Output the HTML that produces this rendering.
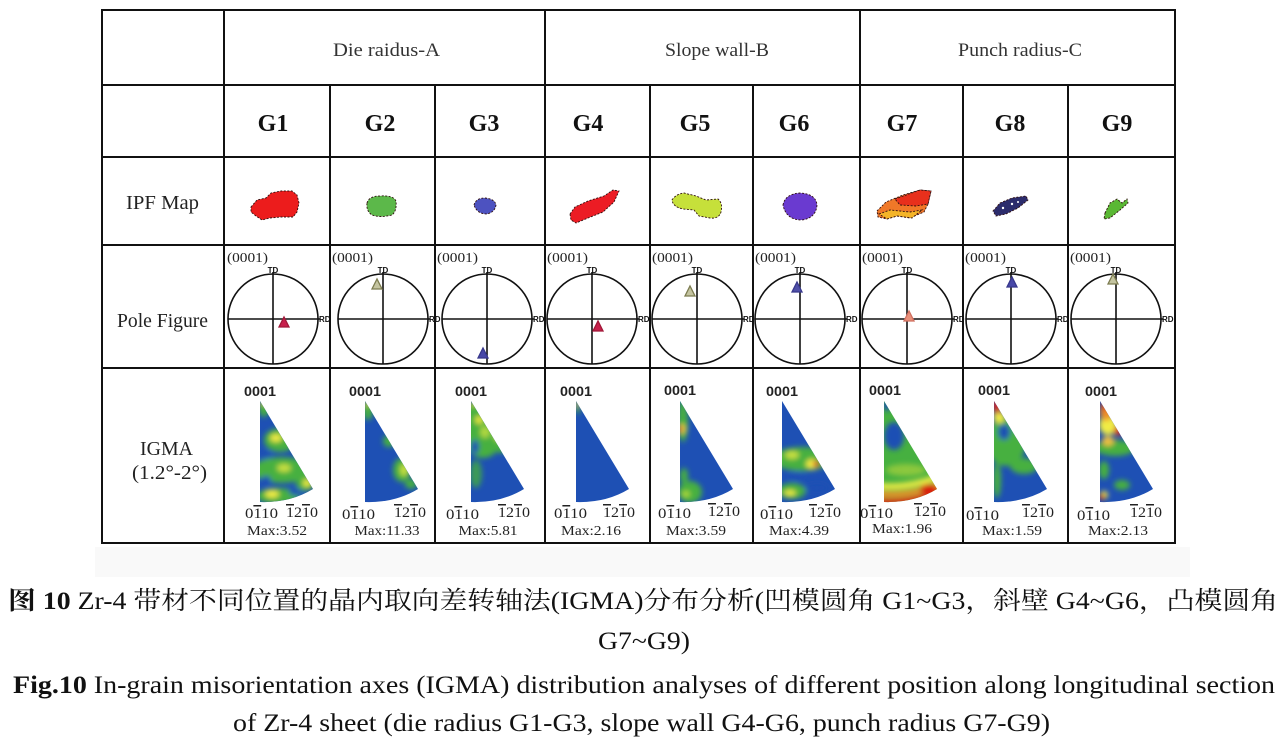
<!DOCTYPE html>
<html><head><meta charset="utf-8">
<style>
html,body{margin:0;padding:0;background:#fff;}
svg{display:block;}
.s{font-family:"Liberation Serif","Noto Serif CJK SC",serif;}
.a{font-family:"Liberation Sans",sans-serif;}
.ol{text-decoration:overline;}
</style></head><body>
<svg width="1283" height="746" viewBox="0 0 1283 746" xmlns="http://www.w3.org/2000/svg">
<defs>
<filter id="bl" x="-50%" y="-50%" width="200%" height="200%"><feGaussianBlur stdDeviation="2.6"/></filter>
<clipPath id="tc"><path d="M0,401 L53,489 Q30,503 0,502 Z"/></clipPath>
</defs>
<rect width="1283" height="746" fill="#fff"/>
<rect x="95" y="547" width="1095" height="30" fill="#f9f9f9"/>

<!-- table lines -->
<g stroke="#111" stroke-width="2" fill="none">
<line x1="101" y1="10" x2="1176" y2="10"/>
<line x1="101" y1="85" x2="1176" y2="85"/>
<line x1="101" y1="157" x2="1176" y2="157"/>
<line x1="101" y1="245" x2="1176" y2="245"/>
<line x1="101" y1="368" x2="1176" y2="368"/>
<line x1="101" y1="543" x2="1176" y2="543"/>
<line x1="102" y1="9" x2="102" y2="544"/>
<line x1="224" y1="9" x2="224" y2="544"/>
<line x1="545" y1="9" x2="545" y2="544"/>
<line x1="860" y1="9" x2="860" y2="544"/>
<line x1="1175" y1="9" x2="1175" y2="544"/>
<line x1="330" y1="85" x2="330" y2="544"/>
<line x1="435" y1="85" x2="435" y2="544"/>
<line x1="650" y1="85" x2="650" y2="544"/>
<line x1="753" y1="85" x2="753" y2="544"/>
<line x1="963" y1="85" x2="963" y2="544"/>
<line x1="1068" y1="85" x2="1068" y2="544"/>
</g>

<!-- header text -->
<g class="s" fill="#333" font-size="19">
<text x="333" y="56" textLength="107" lengthAdjust="spacingAndGlyphs">Die raidus-A</text>
<text x="665" y="56" textLength="104" lengthAdjust="spacingAndGlyphs">Slope wall-B</text>
<text x="958" y="56" textLength="124" lengthAdjust="spacingAndGlyphs">Punch radius-C</text>
</g>
<g class="s" fill="#111" font-size="24" font-weight="bold" text-anchor="middle">
<text x="273" y="131">G1</text>
<text x="380" y="131">G2</text>
<text x="484" y="131">G3</text>
<text x="588" y="131">G4</text>
<text x="695" y="131">G5</text>
<text x="794" y="131">G6</text>
<text x="902" y="131">G7</text>
<text x="1010" y="131">G8</text>
<text x="1117" y="131">G9</text>
</g>
<g class="s" fill="#222" font-size="20">
<text x="126" y="209" textLength="73" lengthAdjust="spacingAndGlyphs">IPF Map</text>
<text x="117" y="327" textLength="91" lengthAdjust="spacingAndGlyphs">Pole Figure</text>
<text x="140" y="455" textLength="53" lengthAdjust="spacingAndGlyphs">IGMA</text>
<text x="132" y="479" textLength="75" lengthAdjust="spacingAndGlyphs">(1.2°-2°)</text>
</g>

<!-- IPF maps -->
<g stroke="#301010" stroke-width="0.9" stroke-dasharray="2 1.5">
<path d="M251,207 L257,200 L266,198 L271,193 L281,191 L292,191 L297,195 L299,203 L297,212 L293,217 L281,217 L270,218 L262,220 L256,216 L251,212 Z" fill="#ec1c1c"/>
<path d="M367,203 Q369,196 380,196 Q393,195 396,201 Q397,211 392,215 Q380,218 372,215 Q366,211 367,203 Z" fill="#5cb84a"/>
<path d="M474,205 Q476,198 485,198 Q495,199 496,205 Q495,212 487,214 Q477,214 474,205 Z" fill="#4d52c0"/>
<path d="M570,214 L575,207 L588,201 L604,196 L613,190 L619,191 L614,202 L603,212 L588,218 L576,223 L571,220 Z" fill="#ec1c24"/>
<path d="M672,200 Q676,194 684,193 L696,196 L706,200 L718,199 Q723,203 721,212 Q719,219 710,218 L699,216 L694,210 L683,209 Q673,207 672,200 Z" fill="#c6e03a"/>
<path d="M783,205 Q785,194 800,193 Q816,194 817,205 Q816,218 802,220 Q786,220 783,205 Z" fill="#6a3ad0"/>
<path d="M877,211 L886,202 L903,195 L920,190 L931,191 L928,204 L924,212 L910,218 L897,216 L887,219 L878,217 Z" fill="#f07828"/>
<path d="M895,199 L920,190 L931,191 L928,204 L916,206 L900,205 Z" fill="#e8301c"/>
<path d="M879,214 L890,210 L910,212 L922,210 L912,218 L897,216 L887,219 Z" fill="#f4b428"/>
<path d="M993,211 L1000,203 L1012,198 L1026,196 L1028,200 L1018,208 L1006,214 L996,216 Z" fill="#2c2c6c"/>
<path d="M1105,213 L1110,203 L1117,199 L1122,203 L1127,199 L1128,203 L1120,210 L1110,218 L1104,219 Z" fill="#5ab834"/>
</g>
<g fill="#fff"><circle cx="1003" cy="208" r="1.2"/><circle cx="1012" cy="204" r="1.2"/><circle cx="1018" cy="202" r="1"/></g>

<!-- Pole figures -->
<g class="s" fill="#222" font-size="14">
<text x="227" y="262" textLength="41" lengthAdjust="spacingAndGlyphs">(0001)</text>
<text x="332" y="262" textLength="41" lengthAdjust="spacingAndGlyphs">(0001)</text>
<text x="437" y="262" textLength="41" lengthAdjust="spacingAndGlyphs">(0001)</text>
<text x="547" y="262" textLength="41" lengthAdjust="spacingAndGlyphs">(0001)</text>
<text x="652" y="262" textLength="41" lengthAdjust="spacingAndGlyphs">(0001)</text>
<text x="755" y="262" textLength="41" lengthAdjust="spacingAndGlyphs">(0001)</text>
<text x="862" y="262" textLength="41" lengthAdjust="spacingAndGlyphs">(0001)</text>
<text x="965" y="262" textLength="41" lengthAdjust="spacingAndGlyphs">(0001)</text>
<text x="1070" y="262" textLength="41" lengthAdjust="spacingAndGlyphs">(0001)</text>
</g>
<g fill="none" stroke="#111" stroke-width="1.6">
<circle cx="273" cy="319" r="45"/><line x1="228" y1="319" x2="320" y2="319"/><line x1="273" y1="272" x2="273" y2="364"/>
<circle cx="383" cy="319" r="45"/><line x1="338" y1="319" x2="430" y2="319"/><line x1="383" y1="272" x2="383" y2="364"/>
<circle cx="487" cy="319" r="45"/><line x1="442" y1="319" x2="534" y2="319"/><line x1="487" y1="272" x2="487" y2="364"/>
<circle cx="592" cy="319" r="45"/><line x1="547" y1="319" x2="639" y2="319"/><line x1="592" y1="272" x2="592" y2="364"/>
<circle cx="697" cy="319" r="45"/><line x1="652" y1="319" x2="744" y2="319"/><line x1="697" y1="272" x2="697" y2="364"/>
<circle cx="800" cy="319" r="45"/><line x1="755" y1="319" x2="847" y2="319"/><line x1="800" y1="272" x2="800" y2="364"/>
<circle cx="907" cy="319" r="45"/><line x1="862" y1="319" x2="954" y2="319"/><line x1="907" y1="272" x2="907" y2="364"/>
<circle cx="1011" cy="319" r="45"/><line x1="966" y1="319" x2="1058" y2="319"/><line x1="1011" y1="272" x2="1011" y2="364"/>
<circle cx="1116" cy="319" r="45"/><line x1="1071" y1="319" x2="1163" y2="319"/><line x1="1116" y1="272" x2="1116" y2="364"/>
</g>
<g class="a" fill="#111" font-size="8" font-weight="bold">
<text x="273" y="273" text-anchor="middle">TD</text><text x="319" y="322">RD</text>
<text x="383" y="273" text-anchor="middle">TD</text><text x="429" y="322">RD</text>
<text x="487" y="273" text-anchor="middle">TD</text><text x="533" y="322">RD</text>
<text x="592" y="273" text-anchor="middle">TD</text><text x="638" y="322">RD</text>
<text x="697" y="273" text-anchor="middle">TD</text><text x="743" y="322">RD</text>
<text x="800" y="273" text-anchor="middle">TD</text><text x="846" y="322">RD</text>
<text x="907" y="273" text-anchor="middle">TD</text><text x="953" y="322">RD</text>
<text x="1011" y="273" text-anchor="middle">TD</text><text x="1057" y="322">RD</text>
<text x="1116" y="273" text-anchor="middle">TD</text><text x="1162" y="322">RD</text>
</g>
<!-- markers -->
<g stroke-width="1.3">
<polygon points="279,327 289,327 284,317" fill="#c8204c" stroke="#a01838"/>
<polygon points="372,289 382,289 377,279" fill="#c4c4a0" stroke="#7c7c50"/>
<polygon points="478,358 488,358 483,348" fill="#4848a8" stroke="#38388c"/>
<polygon points="593,331 603,331 598,321" fill="#c8204c" stroke="#a01838"/>
<polygon points="685,296 695,296 690,286" fill="#c4c4a0" stroke="#7c7c50"/>
<polygon points="792,292 802,292 797,282" fill="#5050a8" stroke="#38388c"/>
<polygon points="904,321 914,321 909,311" fill="#e8907a" stroke="#d07060"/>
<polygon points="1007,287 1017,287 1012,277" fill="#4848a8" stroke="#38388c"/>
<polygon points="1108,284 1118,284 1113,274" fill="#c4c4a0" stroke="#7c7c50"/>
</g>

<!-- IGMA triangles -->
<!-- G1 -->
<g transform="translate(260,0)">
<path d="M0,401 L53,489 Q30,503 0,502 Z" fill="#1e50b4"/>
<g clip-path="url(#tc)"><g filter="url(#bl)">
<ellipse cx="4" cy="409" rx="5" ry="8" fill="#46b040"/>
<ellipse cx="20" cy="440" rx="16" ry="12" fill="#46b040"/>
<ellipse cx="22" cy="470" rx="30" ry="13" fill="#46b040"/>
<ellipse cx="18" cy="496" rx="22" ry="8" fill="#46b040"/>
<ellipse cx="45" cy="484" rx="9" ry="7" fill="#46b040"/>
<ellipse cx="6" cy="480" rx="5" ry="4" fill="#1e50b4"/>
<ellipse cx="36" cy="492" rx="7" ry="3.5" fill="#1e50b4"/>
<ellipse cx="5" cy="455" rx="7" ry="4" fill="#1e50b4"/>
<ellipse cx="16" cy="438" rx="6" ry="4" fill="#f0ec44"/>
<ellipse cx="24" cy="468" rx="7" ry="4" fill="#c8e040"/>
<ellipse cx="12" cy="494" rx="7" ry="4" fill="#f0ec44"/>
<ellipse cx="47" cy="483" rx="4" ry="4" fill="#f0ec44"/>
<ellipse cx="2" cy="403" rx="2" ry="3" fill="#f0ec44"/>
</g></g>
</g>
<!-- G2 -->
<g transform="translate(365,0)">
<path d="M0,401 L53,489 Q30,503 0,502 Z" fill="#1e50b4"/>
<g clip-path="url(#tc)"><g filter="url(#bl)">
<ellipse cx="3" cy="410" rx="5" ry="10" fill="#46b040"/>
<ellipse cx="2" cy="404" rx="2" ry="3" fill="#f0ec44"/>
<ellipse cx="24" cy="441" rx="6" ry="6" fill="#46b040"/>
<ellipse cx="37" cy="470" rx="9" ry="12" fill="#46b040"/>
<ellipse cx="39" cy="470" rx="4" ry="6" fill="#c8e040"/>
<ellipse cx="46" cy="484" rx="6" ry="5" fill="#46b040"/>
</g></g>
</g>
<!-- G3 -->
<g transform="translate(471,0)">
<path d="M0,401 L53,489 Q30,503 0,502 Z" fill="#1e50b4"/>
<g clip-path="url(#tc)"><g filter="url(#bl)">
<ellipse cx="12" cy="428" rx="22" ry="30" fill="#46b040"/>
<ellipse cx="30" cy="442" rx="9" ry="11" fill="#46b040"/>
<ellipse cx="5" cy="474" rx="6" ry="14" fill="#3a9a58"/>
<ellipse cx="4" cy="447" rx="4" ry="7" fill="#1e50b4"/>
<ellipse cx="8" cy="420" rx="4" ry="4" fill="#e8e840"/>
<ellipse cx="28" cy="437" rx="5" ry="4" fill="#c8e040"/>
<ellipse cx="14" cy="432" rx="5" ry="6" fill="#b0d840"/>
<ellipse cx="2" cy="404" rx="2" ry="3" fill="#f0ec44"/>
</g></g>
</g>
<!-- G4 -->
<g transform="translate(576,0)">
<path d="M0,401 L53,489 Q30,503 0,502 Z" fill="#1e50b4"/>
<g clip-path="url(#tc)"><g filter="url(#bl)">
<ellipse cx="2" cy="410" rx="2" ry="4" fill="#46b040"/>
<ellipse cx="1" cy="404" rx="2" ry="4" fill="#f0ec44"/>
</g></g>
</g>
<!-- G5 -->
<g transform="translate(680,0)">
<path d="M0,401 L53,489 Q30,503 0,502 Z" fill="#1e50b4"/>
<g clip-path="url(#tc)"><g filter="url(#bl)">
<ellipse cx="3" cy="420" rx="5" ry="22" fill="#46b040"/>
<ellipse cx="2" cy="429" rx="4" ry="5" fill="#f0ec44"/>
<ellipse cx="1" cy="429" rx="2.5" ry="3" fill="#e02818"/>
<ellipse cx="4" cy="476" rx="4" ry="8" fill="#46b040"/>
<ellipse cx="10" cy="492" rx="12" ry="11" fill="#46b040"/>
<ellipse cx="6" cy="494" rx="4" ry="3" fill="#b4dc3c"/>
</g></g>
</g>
<!-- G6 -->
<g transform="translate(782,0)">
<path d="M0,401 L53,489 Q30,503 0,502 Z" fill="#1e50b4"/>
<g clip-path="url(#tc)"><g filter="url(#bl)">
<ellipse cx="20" cy="459" rx="30" ry="12" fill="#46b040"/>
<ellipse cx="10" cy="455" rx="7" ry="4" fill="#c8e040"/>
<ellipse cx="30" cy="464" rx="6" ry="5" fill="#f0ec44"/>
<ellipse cx="34" cy="464" rx="3" ry="3" fill="#e02818"/>
<ellipse cx="15" cy="476" rx="8" ry="4" fill="#1e50b4"/>
<ellipse cx="10" cy="491" rx="14" ry="8" fill="#46b040"/>
<ellipse cx="8" cy="493" rx="6" ry="3" fill="#f0ec44"/>
<ellipse cx="35" cy="488" rx="12" ry="5" fill="#1e50b4"/>
</g></g>
</g>
<!-- G7 -->
<g transform="translate(884,0)">
<path d="M0,401 L53,489 Q30,503 0,502 Z" fill="#46b040"/>
<g clip-path="url(#tc)"><g filter="url(#bl)">
<ellipse cx="3" cy="405" rx="4" ry="6" fill="#1e50b4"/>
<ellipse cx="10" cy="436" rx="10" ry="14" fill="#1e50b4"/>
<ellipse cx="22" cy="470" rx="20" ry="6" fill="#8cc83c"/>
<path d="M-5,486 Q28,489 60,474" stroke="#f0ec44" stroke-width="6" fill="none"/>
<path d="M-5,494 Q30,497 60,482" stroke="#f09028" stroke-width="6" fill="none"/>
<path d="M-5,502 Q30,505 62,489" stroke="#e02818" stroke-width="7" fill="none"/>
<ellipse cx="44" cy="489" rx="8" ry="5" fill="#d81a10"/>
</g></g>
</g>
<!-- G8 -->
<g transform="translate(994,0)">
<path d="M0,401 L53,489 Q30,503 0,502 Z" fill="#1e50b4"/>
<g clip-path="url(#tc)"><g filter="url(#bl)">
<ellipse cx="12" cy="442" rx="20" ry="24" fill="#46b040"/>
<ellipse cx="10" cy="432" rx="6" ry="8" fill="#1e50b4"/>
<ellipse cx="30" cy="466" rx="14" ry="8" fill="#46b040"/>
<ellipse cx="3" cy="480" rx="4" ry="18" fill="#46b040"/>
<ellipse cx="5" cy="417" rx="6" ry="6" fill="#f0ec44"/>
<ellipse cx="3" cy="406" rx="4" ry="8" fill="#e02818"/>
</g></g>
</g>
<!-- G9 -->
<g transform="translate(1100,0)">
<path d="M0,401 L53,489 Q30,503 0,502 Z" fill="#1e50b4"/>
<g clip-path="url(#tc)"><g filter="url(#bl)">
<ellipse cx="15" cy="448" rx="20" ry="8" fill="#46b040"/>
<ellipse cx="8" cy="425" rx="9" ry="10" fill="#f0ec44"/>
<ellipse cx="6" cy="411" rx="6" ry="10" fill="#f09028"/>
<ellipse cx="5" cy="406" rx="3" ry="5" fill="#e02818"/>
<ellipse cx="18" cy="431" rx="4" ry="5" fill="#e02818"/>
<ellipse cx="8" cy="441" rx="6" ry="5" fill="#f0c040"/>
<ellipse cx="4" cy="470" rx="5" ry="9" fill="#46b040"/>
<ellipse cx="22" cy="485" rx="8" ry="5" fill="#46b040"/>
<ellipse cx="4" cy="495" rx="4" ry="4" fill="#f0ec44"/>
<ellipse cx="2" cy="497" rx="3" ry="3" fill="#e02818"/>
</g></g>
</g>

<!-- IGMA labels -->
<g class="a" fill="#222" font-size="14" font-weight="bold">
<text x="244" y="396" textLength="32" lengthAdjust="spacingAndGlyphs">0001</text>
<text x="349" y="396" textLength="32" lengthAdjust="spacingAndGlyphs">0001</text>
<text x="455" y="396" textLength="32" lengthAdjust="spacingAndGlyphs">0001</text>
<text x="560" y="396" textLength="32" lengthAdjust="spacingAndGlyphs">0001</text>
<text x="664" y="395" textLength="32" lengthAdjust="spacingAndGlyphs">0001</text>
<text x="766" y="396" textLength="32" lengthAdjust="spacingAndGlyphs">0001</text>
<text x="869" y="395" textLength="32" lengthAdjust="spacingAndGlyphs">0001</text>
<text x="978" y="395" textLength="32" lengthAdjust="spacingAndGlyphs">0001</text>
<text x="1085" y="396" textLength="32" lengthAdjust="spacingAndGlyphs">0001</text>
</g>
<g class="s" fill="#222" font-size="15">
<text x="245" y="518" textLength="33" lengthAdjust="spacingAndGlyphs">0<tspan class="ol">1</tspan>10</text>
<text x="286" y="517" textLength="32" lengthAdjust="spacingAndGlyphs"><tspan class="ol">1</tspan>2<tspan class="ol">1</tspan>0</text>
<text x="342" y="519" textLength="33" lengthAdjust="spacingAndGlyphs">0<tspan class="ol">1</tspan>10</text>
<text x="394" y="517" textLength="32" lengthAdjust="spacingAndGlyphs"><tspan class="ol">1</tspan>2<tspan class="ol">1</tspan>0</text>
<text x="446" y="519" textLength="33" lengthAdjust="spacingAndGlyphs">0<tspan class="ol">1</tspan>10</text>
<text x="498" y="517" textLength="32" lengthAdjust="spacingAndGlyphs"><tspan class="ol">1</tspan>2<tspan class="ol">1</tspan>0</text>
<text x="554" y="518" textLength="33" lengthAdjust="spacingAndGlyphs">0<tspan class="ol">1</tspan>10</text>
<text x="603" y="517" textLength="32" lengthAdjust="spacingAndGlyphs"><tspan class="ol">1</tspan>2<tspan class="ol">1</tspan>0</text>
<text x="658" y="518" textLength="33" lengthAdjust="spacingAndGlyphs">0<tspan class="ol">1</tspan>10</text>
<text x="708" y="516" textLength="32" lengthAdjust="spacingAndGlyphs"><tspan class="ol">1</tspan>2<tspan class="ol">1</tspan>0</text>
<text x="760" y="519" textLength="33" lengthAdjust="spacingAndGlyphs">0<tspan class="ol">1</tspan>10</text>
<text x="809" y="517" textLength="32" lengthAdjust="spacingAndGlyphs"><tspan class="ol">1</tspan>2<tspan class="ol">1</tspan>0</text>
<text x="860" y="518" textLength="33" lengthAdjust="spacingAndGlyphs">0<tspan class="ol">1</tspan>10</text>
<text x="914" y="516" textLength="32" lengthAdjust="spacingAndGlyphs"><tspan class="ol">1</tspan>2<tspan class="ol">1</tspan>0</text>
<text x="966" y="520" textLength="33" lengthAdjust="spacingAndGlyphs">0<tspan class="ol">1</tspan>10</text>
<text x="1022" y="517" textLength="32" lengthAdjust="spacingAndGlyphs"><tspan class="ol">1</tspan>2<tspan class="ol">1</tspan>0</text>
<text x="1077" y="520" textLength="33" lengthAdjust="spacingAndGlyphs">0<tspan class="ol">1</tspan>10</text>
<text x="1130" y="517" textLength="32" lengthAdjust="spacingAndGlyphs"><tspan class="ol">1</tspan>2<tspan class="ol">1</tspan>0</text>
</g>
<g class="s" fill="#222" font-size="14" text-anchor="middle">
<text x="277" y="535" textLength="60" lengthAdjust="spacingAndGlyphs">Max:3.52</text>
<text x="387" y="535" textLength="65" lengthAdjust="spacingAndGlyphs">Max:11.33</text>
<text x="488" y="535" textLength="59" lengthAdjust="spacingAndGlyphs">Max:5.81</text>
<text x="591" y="535" textLength="60" lengthAdjust="spacingAndGlyphs">Max:2.16</text>
<text x="696" y="535" textLength="60" lengthAdjust="spacingAndGlyphs">Max:3.59</text>
<text x="799" y="535" textLength="60" lengthAdjust="spacingAndGlyphs">Max:4.39</text>
<text x="902" y="533" textLength="60" lengthAdjust="spacingAndGlyphs">Max:1.96</text>
<text x="1012" y="535" textLength="60" lengthAdjust="spacingAndGlyphs">Max:1.59</text>
<text x="1118" y="535" textLength="60" lengthAdjust="spacingAndGlyphs">Max:2.13</text>
</g>

<!-- captions -->
<g class="s" fill="#111" font-size="25">
<text x="8" y="609" textLength="1270" lengthAdjust="spacingAndGlyphs"><tspan font-weight="bold">图 10</tspan> Zr-4 带材不同位置的晶内取向差转轴法(IGMA)分布分析(凹模圆角 G1~G3，斜壁 G4~G6，凸模圆角</text>
<text x="598" y="649" textLength="92" lengthAdjust="spacingAndGlyphs">G7~G9)</text>
<text x="13" y="693" textLength="1262" lengthAdjust="spacingAndGlyphs"><tspan font-weight="bold">Fig.10</tspan> In-grain misorientation axes (IGMA) distribution analyses of different position along longitudinal section</text>
<text x="233" y="731" textLength="817" lengthAdjust="spacingAndGlyphs">of Zr-4 sheet (die radius G1-G3, slope wall G4-G6, punch radius G7-G9)</text>
</g>
</svg>
</body></html>
